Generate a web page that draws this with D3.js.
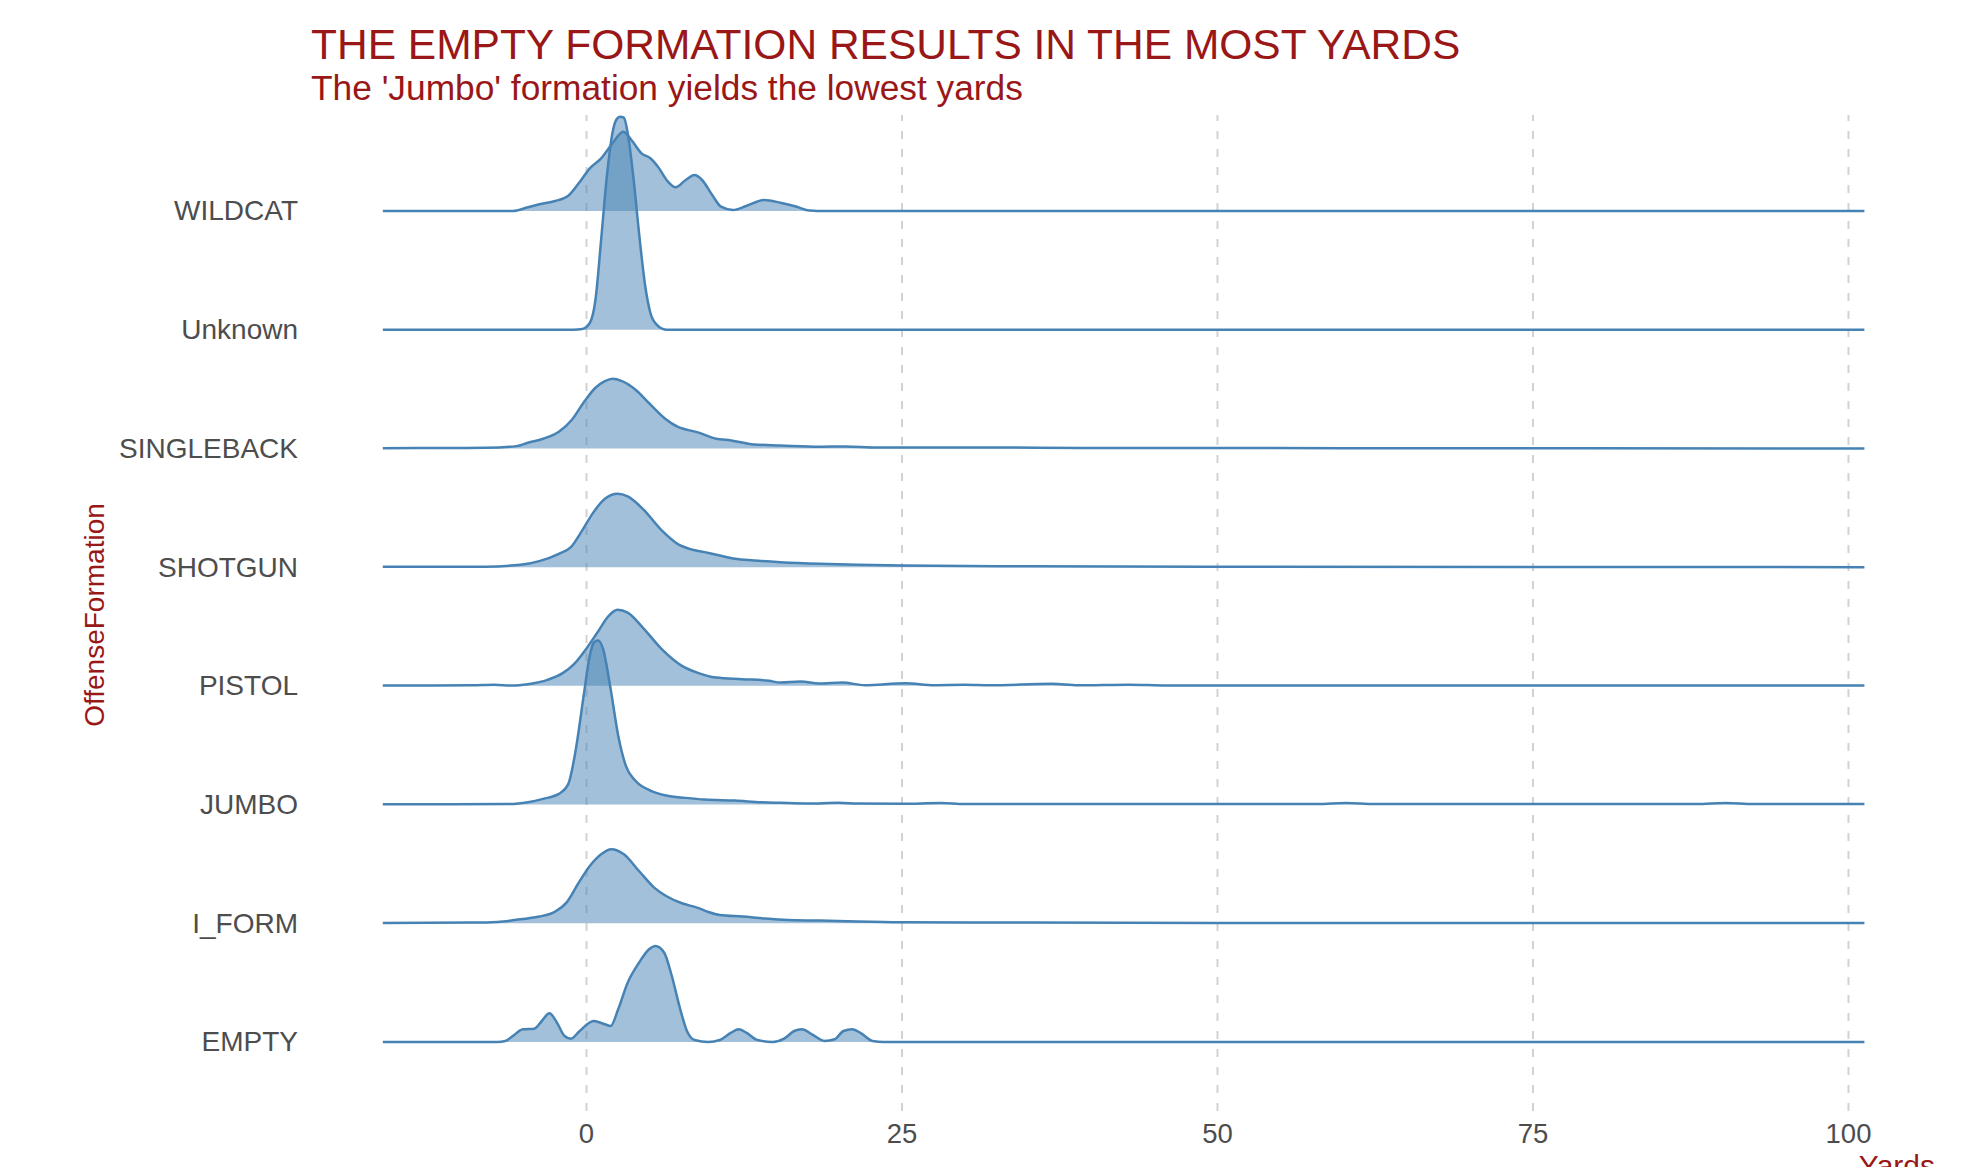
<!DOCTYPE html>
<html>
<head>
<meta charset="utf-8">
<script src="https://cdn.jsdelivr.net/npm/d3@7"></script>
<style>
  body { margin: 0; background: #fff; }
  svg text { font-family: "Liberation Sans", Arial, sans-serif; }
  .domain { display: none; }
</style>
</head>
<body>
<div id="chart"></div>
<script>
// Chart values (yards, ridge height)
var formations = ["WILDCAT", "Unknown", "SINGLEBACK", "SHOTGUN", "PISTOL", "JUMBO", "I_FORM", "EMPTY"]
var xTicks = [0, 25, 50, 75, 100]

var WILDCAT = [[-16.1,0],[-5.8,0],[-4.6,3.7],[-3.7,6.7],[-2.45,10],[-1.4,15.3],[-0.5,29],[0.3,42.7],[1.2,52.7],[2.1,67.7],[2.95,79.3],[3.6,71],[4.4,57.7],[5.1,52.7],[5.7,44.3],[6.5,29.3],[7.1,23.7],[7.9,31],[8.6,36],[9.2,31],[10.0,16],[10.7,4.3],[11.65,1],[12.7,5],[14.1,11],[15.4,8.3],[16.7,4.3],[17.7,0.5],[19,0],[101.3,0]]
var UNKNOWN = [[-16.1,0],[-1,0],[-0.3,0.7],[0.3,6.7],[0.75,30],[1.2,90],[1.65,153],[2.1,197],[2.4,210],[2.7,213],[3.0,212],[3.3,197],[3.75,153],[4.2,97],[4.7,43],[5.1,17],[5.6,5],[6.35,0],[101.3,0]]
var SINGLEBACK = [[-16.1,0.3],[-10,0.5],[-7.9,0.7],[-5.5,2.3],[-4.6,5.7],[-3.4,9.7],[-2.15,16.7],[-1.1,29],[-0.2,45.7],[0.75,60.7],[1.5,67.3],[2.1,69.7],[2.85,67.3],[3.9,59],[5.1,44],[6.35,29],[7.25,21.7],[8.8,16.3],[10.3,9.7],[11.5,8],[13.3,4],[15.4,3],[18.5,1.7],[20.6,2],[23,1],[30,1],[40,0.5],[60,0.3],[101.3,0]]
var SHOTGUN = [[-16.1,0.3],[-8,0.5],[-5.2,2.3],[-3.7,6],[-2.15,13.3],[-1.2,20],[-0.3,36.7],[0.6,55],[1.5,68.3],[2.5,73.3],[3.3,70.7],[4.5,58.3],[6.0,36.7],[7.25,23.3],[8.2,18.3],[9.4,15],[10.6,11.7],[11.8,8.3],[13.3,6.7],[15.4,5],[18.5,3.3],[21.5,2.3],[25,1.7],[35,0.8],[50,0.4],[101.3,0]]
var PISTOL = [[-16.1,0.3],[-9,0.5],[-7.3,1],[-5.8,0.3],[-4.6,1.7],[-3.05,6],[-1.85,12.7],[-0.95,21.7],[0,36.7],[0.9,53.3],[1.8,70],[2.5,76],[3.3,73.3],[4.5,58.3],[6.0,36.7],[7.6,20],[8.8,13.3],[10.3,8.3],[12.4,6.7],[14.5,5],[15.4,3.3],[17,4.3],[18.5,2.3],[20.3,3.3],[22.1,0.7],[25.3,2.7],[27.6,0.7],[30,1],[32,0.5],[36.9,2],[39,0.5],[43,1.2],[46,0.3],[101.3,0.3]]
var JUMBO = [[-16.1,0.3],[-6,0.5],[-4.6,2.3],[-3.4,5.7],[-2.15,10.7],[-1.4,20.7],[-0.8,55.7],[-0.15,112],[0.3,149],[0.65,162.3],[0.95,164],[1.35,155.7],[1.95,115.7],[2.55,69],[3.15,39],[3.9,24],[5.1,14],[6.35,9],[7.9,6.7],[9.4,5],[11.8,4],[13.9,2.3],[15.4,1.7],[17.6,1],[20,1.7],[21.5,1],[25,0.7],[28.1,1.5],[30,0.5],[58,0.5],[60.2,1.5],[62.5,0.5],[88,0.5],[90.3,1.5],[92.5,0.5],[101.3,0.5]]
var I_FORM = [[-16.1,0.3],[-9,0.7],[-7,1.3],[-5.2,4],[-3.7,6.7],[-2.45,11.7],[-1.55,20.7],[-0.65,39],[0.3,57.3],[1.2,69],[2.0,74],[3.0,69],[4.2,52.3],[5.4,35.7],[6.35,27.3],[7.6,20],[8.8,15.7],[9.7,11.3],[10.6,8.3],[12.4,6.7],[14.2,4.7],[16,3.3],[18.5,2.7],[21.5,1.7],[25,1],[35,0.7],[50,0.4],[101.3,0.2]]
var EMPTY = [[-16.1,0],[-7,0],[-6.4,1],[-5.8,6],[-5.0,12.7],[-4.1,13.3],[-3.5,21],[-2.9,28.7],[-2.3,19.3],[-1.7,6],[-1.2,3.3],[-0.5,11],[0.6,21],[1.5,17.7],[1.95,16],[2.55,32.7],[3.3,59.3],[4.2,79.3],[5.0,92.7],[5.5,96],[6.2,89.3],[6.8,66],[7.4,36],[8.0,11],[8.6,2],[9.7,0],[10.6,2],[11.5,9.3],[12.1,12.7],[12.7,9.3],[13.6,2],[14.8,0],[15.7,3.3],[16.5,11],[17.1,12.7],[17.9,7.7],[18.9,1],[19.7,2.7],[20.4,11],[21.1,12.7],[21.8,8.7],[22.7,1],[23.6,0],[101.3,0]]

var ridges = {
  WILDCAT: WILDCAT, Unknown: UNKNOWN, SINGLEBACK: SINGLEBACK, SHOTGUN: SHOTGUN,
  PISTOL: PISTOL, JUMBO: JUMBO, I_FORM: I_FORM, EMPTY: EMPTY
}

var width = 1969, height = 1167
var red = '#9a1717'
var blue = '#4682b4'
var panelTop = 115, panelBottom = 1111

var svg = d3.select("#chart")
  .append("svg")
  .attr("width", width)
  .attr("height", height)

svg.append("rect").attr("width", width).attr("height", height).attr("fill", "#fff")

// scales
var xScale = d3.scaleLinear()
  .domain([0, 100])
  .range([586, 1848])

var yScale = d3.scalePoint()
  .domain(formations)
  .range([211, 1042])

var hScale = d3.scaleLinear()
  .domain([0, 213])
  .range([0, 213])

// vertical dashed grid
var xGrid = d3.axisBottom(xScale)
  .tickValues(xTicks)
  .tickSize(-(panelBottom - panelTop))
  .tickFormat('')

svg.append("g")
  .attr("transform", `translate(0,${panelBottom})`)
  .call(xGrid)
  .selectAll(".tick line")
  .attr("stroke", "#d2d2d2")
  .attr("stroke-width", 2)
  .attr("stroke-dasharray", "8,10")

// ridges, top first so lower ones sit on top
formations.forEach(function(f) {
  var base = yScale(f)
  var area = d3.area()
    .x(d => xScale(d[0]))
    .y0(base)
    .y1(d => base - hScale(d[1]))
    .curve(d3.curveMonotoneX)
  var line = d3.line()
    .x(d => xScale(d[0]))
    .y(d => base - hScale(d[1]))
    .curve(d3.curveMonotoneX)

  svg.append("path")
    .datum(ridges[f])
    .attr("d", area)
    .attr("fill", blue)
    .attr("fill-opacity", 0.5)

  svg.append("path")
    .datum(ridges[f])
    .attr("d", line)
    .attr("fill", "none")
    .attr("stroke", blue)
    .attr("stroke-width", 2.5)
})

// Y axis labels
svg.append("g")
  .attr("transform", `translate(308,0)`)
  .call(d3.axisLeft(yScale).tickSize(0).tickPadding(10))
  .selectAll("text")
  .attr("font-size", "28px")
  .attr("fill", "#4d4d4d")

// X axis labels
svg.append("g")
  .attr("transform", `translate(0,${panelBottom})`)
  .call(d3.axisBottom(xScale).tickValues(xTicks).tickSize(0).tickPadding(12))
  .selectAll("text")
  .attr("font-size", "27.5px")
  .attr("fill", "#4d4d4d")

svg.selectAll(".tick line").filter(function() { return !this.getAttribute("stroke-dasharray") }).remove()

// titles
svg.append("text")
  .attr("x", 311)
  .attr("y", 59)
  .attr("font-size", "42.5px")
  .attr("fill", red)
  .text("THE EMPTY FORMATION RESULTS IN THE MOST YARDS")

svg.append("text")
  .attr("x", 311)
  .attr("y", 100)
  .attr("font-size", "35.3px")
  .attr("fill", red)
  .text("The 'Jumbo' formation yields the lowest yards")

svg.append("text")
  .attr("text-anchor", "middle")
  .attr("transform", `translate(104,615) rotate(-90)`)
  .attr("font-size", "28px")
  .attr("fill", red)
  .text("OffenseFormation")

// axis title sits at the bottom edge, partly cut off as in the reference
svg.append("text")
  .attr("text-anchor", "end")
  .attr("x", 1935)
  .attr("y", 1176)
  .attr("font-size", "30px")
  .attr("fill", red)
  .text("Yards")
</script>
</body>
</html>
